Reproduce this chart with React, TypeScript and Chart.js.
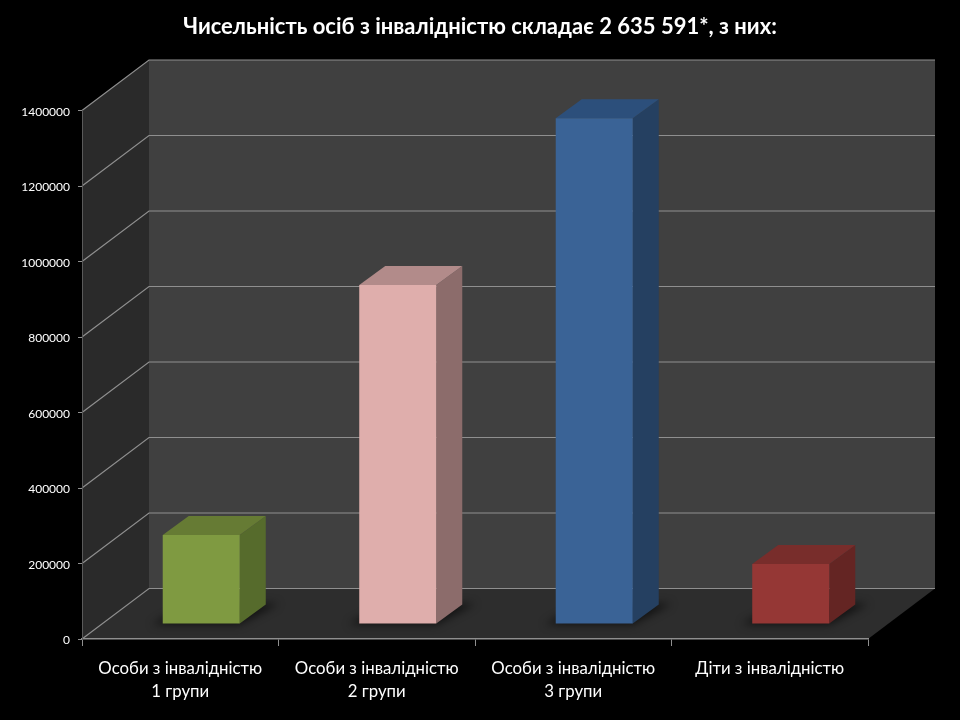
import React, { useEffect, useRef } from "react";
import { Chart, registerables } from "chart.js";

Chart.register(...registerables);

const titleText = "Чисельність осіб з інвалідністю складає 2 635 591*, з них:";
const categories = [
  ["Особи з інвалідністю", "1 групи"],
  ["Особи з інвалідністю", "2 групи"],
  ["Особи з інвалідністю", "3 групи"],
  ["Діти з інвалідністю"],
];
const seriesValues = [236000, 898000, 1340000, 159000];
const faceColors = ["#7f9a41", "#dfaeac", "#3a6396", "#953735"];
const sideColors = ["#566b2c", "#8c6c6b", "#254061", "#642523"];
const topColors = ["#667b34", "#b28b8a", "#2c4f7b", "#782d2b"];

const FONT = "Lato, Carlito, 'Open Sans', sans-serif";
const WALL_DX = 67;
const WALL_DY = -50.5;
const BAR_SHIFT_X = 21;
const BAR_SHIFT_Y = -15;
const BAR_DX = 26;
const BAR_DY = -19;
const GRID = "#8f8f8f";

function poly(ctx: CanvasRenderingContext2D, pts: number[][], fill: string) {
  ctx.beginPath();
  pts.forEach(([x, y], i) => (i ? ctx.lineTo(x, y) : ctx.moveTo(x, y)));
  ctx.closePath();
  ctx.fillStyle = fill;
  ctx.fill();
}

const scene3d = {
  id: "scene3d",
  afterLayout(chart: any) {
    // the title is centred on the whole page, not on the area left by the padding
    chart.titleBlock.left = 0;
    chart.titleBlock.right = chart.width;
  },
  beforeDraw(chart: any) {
    const { ctx, chartArea: a, scales } = chart;
    const y = scales.y;
    const L = a.left, R = a.right, T = a.top, B = a.bottom;
    ctx.save();
    ctx.fillStyle = "#000";
    ctx.fillRect(0, 0, chart.width, chart.height);
    poly(ctx, [[L, T], [L + WALL_DX, T + WALL_DY], [L + WALL_DX, B + WALL_DY], [L, B]], "#2a2a2a");
    poly(ctx, [[L + WALL_DX, T + WALL_DY], [R + WALL_DX, T + WALL_DY], [R + WALL_DX, B + WALL_DY], [L + WALL_DX, B + WALL_DY]], "#404040");
    poly(ctx, [[L, B], [R, B], [R + WALL_DX, B + WALL_DY], [L + WALL_DX, B + WALL_DY]], "#2d2d2d");
    ctx.strokeStyle = GRID;
    ctx.lineWidth = 1.2;
    y.ticks.forEach((t: any) => {
      const py = y.getPixelForValue(t.value);
      ctx.beginPath();
      ctx.moveTo(L, py);
      ctx.lineTo(L + WALL_DX, py + WALL_DY);
      ctx.lineTo(R + WALL_DX, py + WALL_DY);
      ctx.stroke();
    });
    ctx.restore();
  },
  beforeDatasetsDraw(chart: any) {
    const { ctx } = chart;
    const meta = chart.getDatasetMeta(0);
    ctx.save();
    ctx.translate(BAR_SHIFT_X, BAR_SHIFT_Y);
    meta.data.forEach((bar: any, i: number) => {
      const l = bar.x - bar.width / 2;
      const r = bar.x + bar.width / 2;
      const t = bar.y;
      const b = bar.base;
      ctx.save();
      ctx.filter = "blur(4px)";
      poly(ctx, [[l - 11, b + 1], [r, b + 1], [r + BAR_DX + 13, b + BAR_DY - 1], [l + BAR_DX, b + BAR_DY]], "rgba(0,0,0,0.6)");
      ctx.restore();
      poly(ctx, [[r, t], [r + BAR_DX, t + BAR_DY], [r + BAR_DX, b + BAR_DY], [r, b]], sideColors[i]);
      poly(ctx, [[l, t], [l + BAR_DX, t + BAR_DY], [r + BAR_DX, t + BAR_DY], [r, t]], topColors[i]);
    });
  },
  afterDatasetsDraw(chart: any) {
    chart.ctx.restore();
  },
};

export default function App() {
  const ref = useRef<HTMLCanvasElement>(null);
  useEffect(() => {
    document.body.style.background = "#000";
    const chart = new Chart(ref.current!, {
      type: "bar",
      data: {
        labels: categories,
        datasets: [
          {
            data: seriesValues,
            backgroundColor: faceColors,
            borderWidth: 0,
            categoryPercentage: 1,
            barPercentage: 0.392,
          },
        ],
      },
      plugins: [scene3d],
      options: {
        animation: false,
        responsive: false,
        devicePixelRatio: 1,
        layout: { padding: { right: 92, left: 0, top: 0, bottom: 0 } },
        plugins: {
          legend: { display: false },
          tooltip: { enabled: false },
          title: {
            display: true,
            text: titleText,
            color: "#fff",
            font: { family: FONT, size: 22, weight: "bold" },
            padding: { top: 14, bottom: 70.1 },
          },
        },
        scales: {
          x: {
            afterFit: (s: any) => {
              s.height = 81;
            },
            grid: { offset: true, drawOnChartArea: false, color: GRID, tickLength: 7, tickWidth: 1 },
            border: { color: GRID, width: 1.5 },
            ticks: {
              color: "#fff",
              padding: 11,
              maxRotation: 0,
              autoSkip: false,
              font: { family: FONT, size: 16.8, lineHeight: 1.36 },
            },
          },
          y: {
            min: 0,
            max: 1400000,
            afterFit: (s: any) => {
              s.width = 82;
            },
            grid: { drawOnChartArea: false, color: GRID, tickLength: 4, tickWidth: 1 },
            border: { color: "#5a5a5a", width: 1 },
            ticks: {
              stepSize: 200000,
              color: "#fff",
              padding: 8,
              labelOffset: 1.5,
              callback: (v: any) => String(v),
              font: { family: FONT, size: 12 },
            },
          },
        },
      },
    } as any);
    return () => chart.destroy();
  }, []);
  return (
    <canvas
      ref={ref}
      width={960}
      height={720}
      style={{ position: "fixed", left: 0, top: 0, display: "block" }}
    />
  );
}
